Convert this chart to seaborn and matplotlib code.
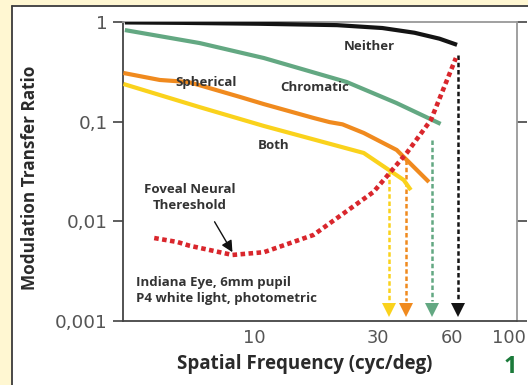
import numpy as np
import pandas as pd
import matplotlib
matplotlib.use("Agg")
import matplotlib.pyplot as plt
import seaborn as sns
from matplotlib.patches import Rectangle
from matplotlib.lines import Line2D
from matplotlib.transforms import ScaledTranslation

# ---- data ----
neither_f = [3.0, 5.0, 10.0, 20.0, 30.0, 40.0, 50.0, 58.5]
neither_v = [0.99, 0.98, 0.96, 0.93, 0.87, 0.78, 0.68, 0.59]

chromatic_f = [3.0, 5.85, 10.4, 21.8, 34.0, 50.5]
chromatic_v = [0.83, 0.615, 0.435, 0.25, 0.154, 0.095]

spherical_f = [2.96, 4.1, 5.3, 8.4, 10.4, 16.2, 18.7, 21.0, 25.4, 34.1, 45.5]
spherical_v = [0.308, 0.262, 0.25, 0.177, 0.15, 0.109, 0.099, 0.094, 0.077, 0.052, 0.0248]

both_f = [2.96, 5.85, 10.4, 25.4, 36.3, 38.7]
both_v = [0.239, 0.14, 0.0905, 0.0485, 0.026, 0.0206]

neural_f = [3.9, 4.8, 5.34, 7.85, 10.4, 16.2, 27.7, 37.3, 46.3, 57.9]
neural_v = [0.0068, 0.0062, 0.0057, 0.0046, 0.0049, 0.0073, 0.0197, 0.0485, 0.104, 0.435]

cutoff_f = [31.8, 36.9, 46.7, 59.0]
cutoff_top = [0.0313, 0.0412, 0.0655, 0.467]

curve_names = ["Neither", "Chromatic", "Spherical", "Both"]
x_major = [10, 30, 60, 100]
x_major_labels = ["10", "30", "60", "100"]
x_minor = [20, 40, 50, 70, 80, 90]
y_ticks = [1, 0.1, 0.01, 0.001]
y_tick_labels = ["1", "0,1", "0,01", "0,001"]

# ---- styling ----
colors = {"Neither": "#141414", "Chromatic": "#63a882", "Spherical": "#f08a1e",
          "Both": "#fad21c"}
cut_colors = ["#fad21c", "#f08a1e", "#63a882", "#141414"]
red = "#d9262c"

sns.set_theme(style="white")
plt.rcParams["font.family"] = ["Open Sans", "DejaVu Sans"]

fig = plt.figure(figsize=(5.28, 3.85), dpi=100, facecolor="white")
ax = fig.add_axes([123/528, 1-321/385, (517-123)/528, (321-22)/385])
ax.set_facecolor("white")

# outer frame
fig.patches.append(Rectangle((0, 1-5/385), 1, 5/385, transform=fig.transFigure,
                             facecolor="#fff7d2", edgecolor="none", zorder=0))
fig.patches.append(Rectangle((0, 0), 12/528, 1, transform=fig.transFigure,
                             facecolor="#fff7d2", edgecolor="none", zorder=0))
fig.lines.append(Line2D([12/528, 1], [1-5.5/385, 1-5.5/385], transform=fig.transFigure,
                        color="#3a3a3a", lw=1.3))
fig.lines.append(Line2D([12/528, 12/528], [0, 1-5.5/385], transform=fig.transFigure,
                        color="#3a3a3a", lw=1.3))

frames = []
for name, f, v in [("Neither", neither_f, neither_v), ("Chromatic", chromatic_f, chromatic_v),
                   ("Spherical", spherical_f, spherical_v), ("Both", both_f, both_v)]:
    frames.append(pd.DataFrame({"f": f, "v": v, "curve": name}))
df = pd.concat(frames, ignore_index=True)

sns.lineplot(data=df, x="f", y="v", hue="curve", hue_order=curve_names,
             palette=colors, lw=3.0, ax=ax, legend=False, sort=False,
             solid_capstyle="butt", zorder=3)

neural = pd.DataFrame({"f": neural_f, "v": neural_v})
sns.lineplot(data=neural, x="f", y="v", color=red, lw=3.3, ax=ax,
             linestyle=(0, (1, 0.75)), dash_capstyle="butt", zorder=4)

# cutoff arrows
for xf, top, c in zip(cutoff_f, cutoff_top, cut_colors):
    ax.plot([xf, xf], [top, 0.0016], color=c, lw=1.8,
            linestyle=(0, (1.8, 1.1)), zorder=2)
    ax.plot([xf], [0.00128], marker="v", color=c, markersize=9.5, zorder=2,
            markeredgewidth=0)

ax.set_xscale("log")
ax.set_yscale("log")
ax.set_xlim(2.95, 100)
ax.set_ylim(0.001, 1)

ax.set_xticks(x_major)
ax.set_xticklabels(x_major_labels)
ax.set_xticks(x_minor, minor=True)
ax.xaxis.set_minor_formatter(plt.NullFormatter())
ax.set_yticks(y_ticks)
ax.set_yticklabels(y_tick_labels)
ax.yaxis.set_minor_locator(plt.NullLocator())

ax.tick_params(axis="x", which="both", direction="in", length=6, width=1.1,
               color="#333333", labelsize=12.8, labelcolor="#555555", pad=6, top=False)
ax.tick_params(axis="y", which="both", direction="out", length=7, width=1.1,
               color="#333333", labelsize=13.2, labelcolor="#555555", pad=4,
               right=True, left=True)
for lab in ax.get_xticklabels() + ax.get_yticklabels():
    lab.set_fontfamily("DejaVu Sans")
shifts = [-5, -4, -8, -8]
for lab, s in zip(ax.get_xticklabels(), shifts):
    lab.set_transform(lab.get_transform() + ScaledTranslation(s/100, 0, fig.dpi_scale_trans))

for side in ["left", "bottom"]:
    ax.spines[side].set_color("#444444")
    ax.spines[side].set_linewidth(1.3)
for side in ["top", "right"]:
    ax.spines[side].set_color("#999999")
    ax.spines[side].set_linewidth(1.3)

ax.set_xlabel("Spatial Frequency (cyc/deg)", fontsize=13.5, fontweight="bold",
              color="#2a2a2a")
ax.set_ylabel("Modulation Transfer Ratio", fontsize=12.3, fontweight="bold",
              color="#2a2a2a")
ax.xaxis.set_label_coords((305-123)/394, -(354-321)/299)
ax.yaxis.set_label_coords(-(123-39)/394, (321-178)/299)

tc = "#333333"
fs = 9.5
ax.text(26.8, 0.574, "Neither", ha="center", va="center", fontsize=fs, fontweight="bold", color=tc)
ax.text(16.4, 0.218, "Chromatic", ha="center", va="center", fontsize=fs, fontweight="bold", color=tc)
ax.text(6.22, 0.25, "Spherical", ha="center", va="center", fontsize=fs, fontweight="bold", color=tc)
ax.text(11.3, 0.057, "Both", ha="center", va="center", fontsize=fs, fontweight="bold", color=tc)
ax.text(5.34, 0.0175, "Foveal Neural\nThereshold", ha="center", va="center",
        fontsize=fs, fontweight="bold", color=tc, linespacing=1.3)
ax.annotate("", xy=(7.85, 0.0049), xytext=(6.69, 0.0099),
            arrowprops=dict(arrowstyle="-|>", color="#111111", lw=1.0,
                            mutation_scale=17, shrinkA=0, shrinkB=0))
ax.text(3.3, 0.0020, "Indiana Eye, 6mm pupil\nP4 white light, photometric",
        ha="left", va="center", fontsize=fs, fontweight="bold", color=tc, linespacing=1.3)

fig.text(510/528, 1-367/385, "1", ha="center", va="center", fontsize=17,
         fontweight="bold", color="#1b7a3a")

fig.savefig("out.png", dpi=100, facecolor=fig.get_facecolor())
